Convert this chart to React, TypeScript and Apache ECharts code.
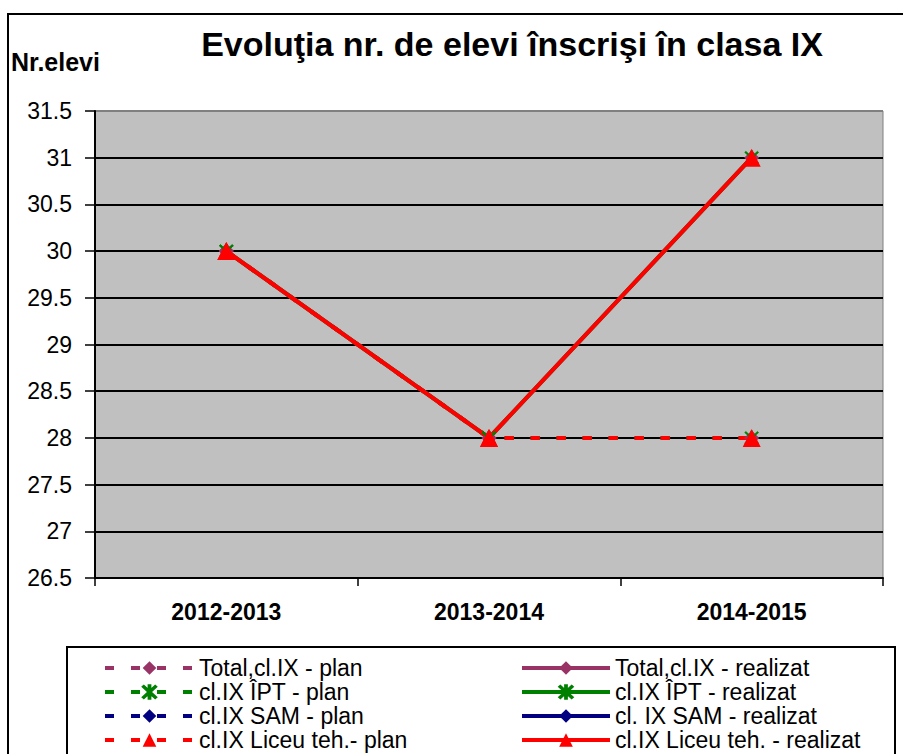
import React, { useEffect, useRef } from "react";
import * as echarts from "echarts";

const categories = ["2012-2013", "2013-2014", "2014-2015"];
const totalPlan = [30, 28, 28];
const totalRealizat = [30, 28, 31];
const iptPlan = [30, 28, 28];
const iptRealizat = [30, 28, 31];
const samPlan: (number | null)[] = [null, null, null];
const samRealizat: (number | null)[] = [null, null, null];
const liceuPlan = [30, 28, 28];
const liceuRealizat = [30, 28, 31];
const yMin = 26.5;
const yMax = 31.5;
const yStep = 0.5;

const planNames = [
  "Total,cl.IX - plan",
  "cl.IX ÎPT - plan",
  "cl.IX SAM - plan",
  "cl.IX Liceu teh.- plan",
];
const realNames = [
  "Total,cl.IX - realizat",
  "cl.IX ÎPT - realizat",
  "cl. IX SAM - realizat",
  "cl.IX Liceu teh. - realizat",
];

const FONT = 'Arial, "Liberation Sans", sans-serif';
const PURPLE = "#993366";
const GREEN = "#008000";
const NAVY = "#000080";
const RED = "#FF0000";

const STAR =
  "path://M-0.6,-5L0.6,-5L0.6,5L-0.6,5Z" +
  "M-4.6,-3.8L-3.8,-4.6L4.6,3.8L3.8,4.6Z" +
  "M3.8,-4.6L4.6,-3.8L-3.8,4.6L-4.6,3.8Z";

function mk(name: string, data: (number | null)[], color: string, dashed: boolean, symbol: string, size: number) {
  return {
    name,
    type: "line",
    data,
    symbol,
    symbolSize: size,
    showSymbol: true,
    connectNulls: false,
    itemStyle: { color, borderColor: color, borderWidth: symbol === STAR ? 0.6 : 0 },
    lineStyle: { color, width: 4, type: dashed ? [9, 17] : "solid" },
  };
}

export default function App() {
  const ref = useRef<HTMLDivElement>(null);
  useEffect(() => {
    const chart = echarts.init(ref.current!, undefined, { renderer: "svg" });
    const splitColors: string[] = [];
    const nLines = Math.round((yMax - yMin) / yStep) + 1;
    for (let i = 0; i < nLines; i++) splitColors.push(i === nLines - 1 ? "#808080" : "#000");
    const legendCommon = {
      orient: "vertical",
      top: 656,
      padding: 0,
      itemGap: 0,
      itemHeight: 17,
      selectedMode: false,
      lineStyle: { width: 4 },
      textStyle: { fontFamily: FONT, fontSize: 23, color: "#000", lineHeight: 24 },
    };
    chart.setOption({
      animation: false,
      backgroundColor: "#fff",
      grid: {
        left: 95,
        right: 20,
        top: 111,
        bottom: 176,
        show: true,
        backgroundColor: "#C0C0C0",
        borderColor: "#808080",
        borderWidth: 1,
      },
      xAxis: {
        type: "category",
        data: categories,
        boundaryGap: true,
        axisLine: { show: true, onZero: false, lineStyle: { color: "#000", width: 2 } },
        axisTick: { show: true, length: 8, interval: 0, alignWithLabel: false, lineStyle: { color: "#000", width: 1.5 } },
        axisLabel: { margin: 22, fontFamily: FONT, fontSize: 23, fontWeight: "bold", color: "#000", interval: 0 },
        splitLine: { show: false },
      },
      yAxis: {
        type: "value",
        min: yMin,
        max: yMax,
        interval: yStep,
        axisLine: { show: true, lineStyle: { color: "#000", width: 2 } },
        axisTick: { show: true, length: 10, lineStyle: { color: "#000", width: 1.5 } },
        axisLabel: { margin: 23, fontFamily: FONT, fontSize: 23, color: "#000" },
        splitLine: { show: true, lineStyle: { color: splitColors, width: 2 } },
      },
      legend: [
        { ...legendCommon, left: 103, itemWidth: 89, data: planNames },
        { ...legendCommon, left: 520, itemWidth: 88, data: realNames },
      ],
      graphic: [
        {
          type: "rect",
          shape: { x: 8, y: 14, width: 1000, height: 1000 },
          style: { fill: "none", stroke: "#000", lineWidth: 2 },
          silent: true,
        },
        {
          type: "rect",
          shape: { x: 67, y: 647, width: 828, height: 200 },
          style: { fill: "none", stroke: "#000", lineWidth: 2 },
          silent: true,
        },
        {
          type: "text",
          x: 512,
          y: 44,
          style: {
            text: "Evoluţia nr. de elevi înscrişi în clasa IX",
            align: "center",
            verticalAlign: "middle",
            fontFamily: FONT,
            fontSize: 34,
            fontWeight: "bold",
            fill: "#000",
          },
        },
        {
          type: "text",
          x: 11,
          y: 62,
          style: {
            text: "Nr.elevi",
            align: "left",
            verticalAlign: "middle",
            fontFamily: FONT,
            fontSize: 25,
            fontWeight: "bold",
            fill: "#000",
          },
        },
      ],
      series: [
        mk(planNames[0], totalPlan, PURPLE, true, "diamond", 15),
        mk(realNames[0], totalRealizat, PURPLE, false, "diamond", 15),
        mk(planNames[1], iptPlan, GREEN, true, STAR, 14),
        mk(realNames[1], iptRealizat, GREEN, false, STAR, 14),
        mk(planNames[2], samPlan, NAVY, true, "diamond", 15),
        mk(realNames[2], samRealizat, NAVY, false, "diamond", 15),
        mk(planNames[3], liceuPlan, RED, true, "triangle", 18),
        mk(realNames[3], liceuRealizat, RED, false, "triangle", 18),
      ],
    });
    return () => chart.dispose();
  }, []);
  return (
    <div
      ref={ref}
      style={{ position: "absolute", left: 0, top: 0, width: 903, height: 754 }}
    />
  );
}
